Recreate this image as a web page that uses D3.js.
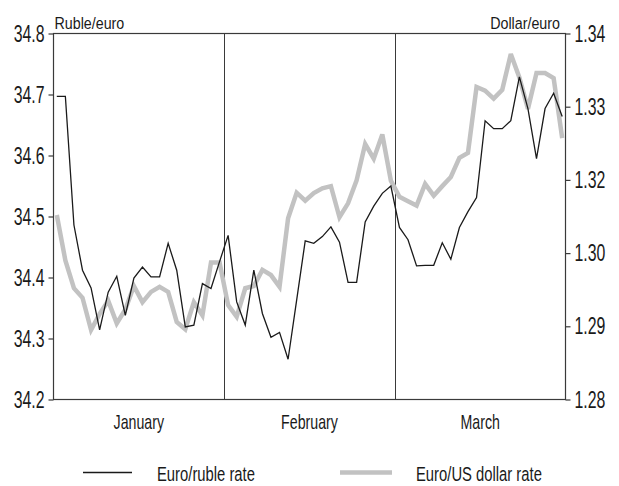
<!DOCTYPE html>
<html>
<head>
<meta charset="utf-8">
<script src="https://cdn.jsdelivr.net/npm/d3@7"></script>
<style>
  html, body { margin: 0; padding: 0; background: #fff; }
  svg { display: block; }
  text { font-family: "Liberation Sans", Arial, sans-serif; fill: #1a1a1a; }
</style>
</head>
<body>
<svg id="chart" width="619" height="486"></svg>
<script>
// ---- data ----
const months = ["January", "February", "March"];
const rubleEuro = [
  34.697, 34.697, 34.486, 34.412, 34.383, 34.314, 34.376, 34.402, 34.338, 34.399,
  34.417, 34.401, 34.401, 34.456, 34.412, 34.319, 34.322, 34.390, 34.382, 34.426,
  34.469, 34.360, 34.322, 34.412, 34.341, 34.302, 34.310, 34.266, 34.363, 34.460,
  34.456, 34.467, 34.483, 34.458, 34.392, 34.392, 34.491, 34.517, 34.538, 34.550,
  34.482, 34.462, 34.419, 34.420, 34.420, 34.457, 34.430, 34.482, 34.508, 34.531,
  34.657, 34.644, 34.644, 34.657, 34.729, 34.677, 34.595, 34.677, 34.702, 34.664
];
const dollarEuro = [
  1.3104, 1.2990, 1.2952, 1.2939, 1.2895, 1.2917, 1.2935, 1.2904, 1.2923, 1.2955,
  1.2933, 1.2947, 1.2954, 1.2947, 1.2906, 1.2896, 1.2933, 1.2915, 1.2987, 1.2987,
  1.2929, 1.2913, 1.2952, 1.2955, 1.2977, 1.2970, 1.2954, 1.3095, 1.3165, 1.3143,
  1.3164, 1.3177, 1.3183, 1.3098, 1.3136, 1.3199, 1.3249, 1.3229, 1.3262, 1.3198,
  1.3154, 1.3142, 1.3130, 1.3189, 1.3157, 1.3183, 1.3204, 1.3230, 1.3237, 1.3327,
  1.3322, 1.3311, 1.3323, 1.3372, 1.3340, 1.3297, 1.3346, 1.3346, 1.3339, 1.3257
];
const leftTicks = [34.2, 34.3, 34.4, 34.5, 34.6, 34.7, 34.8];
const rightTicks = [1.28, 1.29, 1.30, 1.32, 1.33, 1.34]; // as printed on the original axis
const leftTitle = "Ruble/euro";
const rightTitle = "Dollar/euro";
const seriesNames = ["Euro/ruble rate", "Euro/US dollar rate"];

// ---- layout ----
const svg = d3.select("#chart");
const L = 53.5, R = 565.5, T = 33.5, B = 399.5;
const ink = "#1a1a1a", frame = "#3a3a3a", grey = "#c2c2c2";

const x = d3.scaleLinear().domain([0, rubleEuro.length - 1]).range([L + 3.3, R - 3.3]);
const monthBand = d3.scaleBand().domain(months).range([L, R]);
const yL = d3.scaleLinear().domain([34.2, 34.8]).range([B, T]);
// right axis printed labels are equally spaced (1.31 absent), so map them piecewise
const yR = d3.scaleLinear().domain(rightTicks)
  .range(rightTicks.map((d, i) => B - i * (B - T) / (rightTicks.length - 1)));

// month separators
svg.append("g").selectAll("line").data(months.slice(1)).join("line")
  .attr("x1", d => Math.round(monthBand(d)) + 0.5).attr("x2", d => Math.round(monthBand(d)) + 0.5)
  .attr("y1", T).attr("y2", B)
  .attr("stroke", frame).attr("stroke-width", 1);

// frame
svg.append("rect").attr("x", L).attr("y", T).attr("width", R - L).attr("height", B - T)
  .attr("fill", "none").attr("stroke", frame).attr("stroke-width", 1.2);

// axes
const axL = svg.append("g").attr("class", "num").attr("transform", `translate(${L},0)`)
  .call(d3.axisLeft(yL).tickValues(leftTicks).tickSize(5).tickPadding(4).tickFormat(d3.format(".1f")));
const axR = svg.append("g").attr("class", "num").attr("transform", `translate(${R},0)`)
  .call(d3.axisRight(yR).tickValues(rightTicks).tickSize(5).tickPadding(4).tickFormat(d3.format(".2f")));
[axL, axR].forEach(a => {
  a.select(".domain").remove();
  a.selectAll(".tick line").attr("stroke", frame).attr("stroke-width", 1.2);
  a.selectAll("text").attr("font-size", 24).attr("fill", ink).attr("font-family", null);
});

// month labels
svg.append("g").selectAll("text").data(months).join("text")
  .attr("class", "mon")
  .attr("x", d => monthBand(d) + monthBand.bandwidth() / 2)
  .attr("y", 428.5)
  .attr("text-anchor", "middle").attr("font-size", 20)
  .text(d => d);

// axis titles
svg.append("text").attr("class", "ttl").attr("x", 54.5).attr("y", 29)
  .attr("font-size", 17).text(leftTitle);
svg.append("text").attr("class", "ttl").attr("x", 560).attr("y", 29)
  .attr("text-anchor", "end").attr("font-size", 17).text(rightTitle);

// lines
svg.append("path").datum(dollarEuro)
  .attr("fill", "none").attr("stroke", grey).attr("stroke-width", 4.5)
  .attr("stroke-linejoin", "miter").attr("stroke-miterlimit", 3)
  .attr("d", d3.line().x((d, i) => x(i)).y(d => yR(d)));
svg.append("path").datum(rubleEuro)
  .attr("fill", "none").attr("stroke", ink).attr("stroke-width", 1.3)
  .attr("d", d3.line().x((d, i) => x(i)).y(d => yL(d)));

// legend
const leg = [
  {name: seriesNames[0], x1: 83, x2: 132, tx: 157, stroke: ink, w: 1.3},
  {name: seriesNames[1], x1: 340, x2: 392, tx: 416, stroke: grey, w: 4.5}
];
const lg = svg.append("g").selectAll("g").data(leg).join("g");
lg.append("line").attr("x1", d => d.x1).attr("x2", d => d.x2)
  .attr("y1", 472.5).attr("y2", 472.5)
  .attr("stroke", d => d.stroke).attr("stroke-width", d => d.w);
lg.append("text").attr("class", "leg").attr("x", d => d.tx).attr("y", 481)
  .attr("font-size", 19.5).text(d => d.name);

// condensed look of the original typeface: scale horizontally around the anchor
function condense(sel, f) {
  sel.each(function() {
    const t = d3.select(this);
    const x0 = +(t.attr("x") || 0);
    const y0 = +(t.attr("y") || 0);
    t.attr("x", 0).attr("y", 0)
     .attr("transform", `translate(${x0},${y0}) scale(${f},1)`);
  });
}
condense(svg.selectAll(".num text"), 0.66);
condense(svg.selectAll("text.mon"), 0.71);
condense(svg.selectAll("text.ttl"), 0.84);
condense(svg.selectAll("text.leg"), 0.76);
</script>
</body>
</html>
